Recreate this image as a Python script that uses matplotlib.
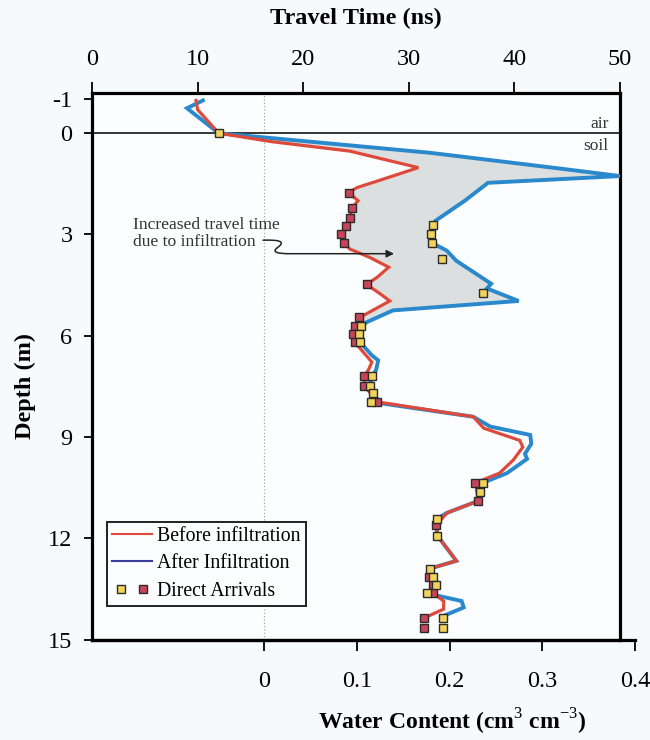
import matplotlib
matplotlib.use("Agg")
import matplotlib.pyplot as plt
import numpy as np
from matplotlib.legend_handler import HandlerTuple
from matplotlib.lines import Line2D
from matplotlib.patches import FancyArrowPatch
from matplotlib.path import Path

# ---------------------------------------------------------------------------
# Profile data (travel time in ns against depth in m)
# ---------------------------------------------------------------------------
before_depth = [-0.97, -0.7, 0.0, 0.25, 0.53, 1.02, 1.42, 1.61, 1.76, 2.0, 2.22,
                2.5, 2.74, 2.99, 3.24, 3.43, 3.68, 3.97, 4.27, 4.48, 4.76, 4.97,
                5.4, 5.45, 5.72, 5.96, 6.2, 6.78, 7.0, 7.19, 7.48, 7.96, 8.4,
                8.74, 9.1, 9.3, 9.68, 10.07, 10.36, 10.89, 11.25, 11.62, 11.92,
                12.67, 12.9, 13.14, 13.39, 13.63, 13.86, 14.1, 14.37]
before_time = [9.85, 10.0, 12.0, 17.0, 24.4, 30.9, 27.0, 25.1, 24.3, 25.2, 24.6,
               24.4, 24.1, 23.6, 23.9, 24.4, 26.3, 28.1, 27.0, 26.0, 27.3, 28.2,
               25.7, 25.3, 24.9, 24.7, 24.9, 26.5, 26.2, 25.8, 25.8, 27.0, 36.1,
               37.1, 40.5, 40.8, 39.9, 38.6, 36.3, 36.6, 33.6, 32.6, 32.7,
               34.5, 32.0, 31.95, 32.3, 32.3, 33.3, 33.3, 31.4]

after_depth = [-0.97, -0.74, 0.0, 0.58, 0.83, 1.07, 1.27, 1.47, 2.0, 2.6, 2.75,
               3.0, 3.25, 3.48, 3.78, 4.46, 4.6, 4.97, 5.25, 5.6, 5.72, 5.96,
               6.2, 6.58, 6.73, 7.02, 7.19, 7.48, 7.69, 8.0, 8.4, 8.69, 8.94,
               9.2, 9.5, 9.65, 10.07, 10.36, 10.63, 10.89, 11.25, 11.42, 11.62,
               11.92, 12.67, 12.9, 13.14, 13.39, 13.63, 13.86, 14.05, 14.3, 14.4]
after_time = [10.5, 9.0, 12.0, 32.0, 38.6, 44.9, 50.0, 37.5, 35.3, 32.5, 32.3,
              32.1, 32.2, 33.6, 34.5, 37.8, 37.4, 40.4, 28.5, 26.0, 25.5, 25.3,
              25.4, 26.5, 27.1, 26.9, 26.5, 26.3, 26.6, 27.3, 36.1, 37.7, 41.5,
              41.6, 41.0, 41.2, 39.3, 37.0, 36.7, 36.6, 33.6, 32.7, 32.6,
              32.7, 34.5, 32.0, 32.3, 32.6, 31.7, 35.0, 35.2, 33.3, 33.2]

# Direct arrival picks
arrival_after_depth = [0.0, 2.72, 3.0, 3.25, 3.72, 4.74, 5.71, 5.96, 6.2, 7.19,
                       7.48, 7.69, 7.96, 10.36, 10.63, 11.42, 11.92, 12.9, 13.14,
                       13.39, 13.63, 14.37, 14.66]
arrival_after_time = [12.0, 32.3, 32.1, 32.2, 33.1, 37.0, 25.5, 25.3, 25.4, 26.5,
                      26.3, 26.6, 26.4, 37.0, 36.7, 32.7, 32.7, 32.0, 32.3,
                      32.6, 31.7, 33.2, 33.2]
arrival_before_depth = [1.76, 2.22, 2.5, 2.74, 2.99, 3.24, 4.48, 5.45, 5.71,
                        5.96, 6.2, 7.19, 7.48, 7.96, 10.36, 10.89, 11.62, 13.14,
                        13.39, 13.63, 14.37, 14.66]
arrival_before_time = [24.3, 24.6, 24.4, 24.1, 23.6, 23.9, 26.0, 25.3, 24.9,
                       24.7, 24.9, 25.8, 25.8, 27.0, 36.3, 36.6, 32.6, 31.95,
                       32.3, 32.3, 31.4, 31.4]

time_ticks = [0, 10, 20, 30, 40, 50]
depth_ticks = [-1, 0, 3, 6, 9, 12, 15]
wc_ticks = [0, 0.1, 0.2, 0.3, 0.4]

# water content axis: travel time at theta = 0 and ns per unit theta
WC_ZERO_NS = 16.33
NS_PER_WC = 87.7
FILL_MAX_DEPTH = 5.75

RED = "#dd4a3c"
BLUE = "#2a88cc"
BG = "#f7fafc"
TICK_FS = 17.5
LABEL_FS = 17.5


def main() -> None:
    plt.rcParams["font.family"] = ["Liberation Serif", "DejaVu Serif"]
    plt.rcParams["axes.unicode_minus"] = False
    plt.rcParams["mathtext.fontset"] = "custom"
    plt.rcParams["mathtext.rm"] = "Liberation Serif"
    plt.rcParams["mathtext.bf"] = "Liberation Serif:bold"

    fig = plt.figure(figsize=(6.5, 7.4), dpi=100)
    fig.patch.set_facecolor(BG)

    W, H = 650.0, 740.0
    left, right, top, bottom = 92, 620, 92.7, 639.5
    ax = fig.add_axes([left / W, 1 - bottom / H, (right - left) / W, (bottom - top) / H])
    ax.set_facecolor("#fbfdfe")

    # shaded difference between the two profiles
    bd = np.array(before_depth)
    bt = np.array(before_time)
    ad = np.array(after_depth)
    at = np.array(after_time)
    sb = (bd >= 0) & (bd <= FILL_MAX_DEPTH)
    sa = (ad >= 0) & (ad <= FILL_MAX_DEPTH)
    poly_t = np.concatenate([at[sa], bt[sb][::-1]])
    poly_d = np.concatenate([ad[sa], bd[sb][::-1]])
    ax.fill(poly_t, poly_d, color="#dcdfe0", lw=0, zorder=1)

    ax.axvline(WC_ZERO_NS, color="#9a9a9a", lw=0.8, ls=(0, (1, 2)), zorder=1.5)
    ax.axhline(0, color="black", lw=1.1, zorder=2)

    ax.plot(after_time, after_depth, color=BLUE, lw=2.8, zorder=3, solid_joinstyle="miter")
    ax.plot(before_time, before_depth, color=RED, lw=2.3, zorder=4, solid_joinstyle="miter")

    sq = dict(marker="s", ms=6, mec="#2b2b2b", mew=1.0, ls="none", zorder=5)
    ax.plot(arrival_before_time, arrival_before_depth, mfc="#c8445a", **sq)
    ax.plot(arrival_after_time, arrival_after_depth, mfc="#f0d25c", **sq)

    ax.set_xlim(0, 50)
    ax.set_ylim(15, -1.2)
    ax.xaxis.tick_top()
    ax.xaxis.set_label_position("top")
    ax.set_xticks(time_ticks)
    ax.set_yticks(depth_ticks)
    ax.tick_params(axis="x", direction="out", length=8, width=1.3, pad=8, labelsize=TICK_FS)
    ax.tick_params(axis="y", direction="out", length=6, width=1.3, pad=8, labelsize=TICK_FS)
    for s in ax.spines.values():
        s.set_linewidth(2.3)
    ax.set_xlabel("Travel Time (ns)", fontsize=LABEL_FS, fontweight="bold", labelpad=18)
    ax.set_ylabel("Depth (m)", fontsize=LABEL_FS, fontweight="bold")
    ax.yaxis.set_label_coords(-0.106, 0.4636)

    # air / soil labels
    ax.text(48.9, -0.28, "air", ha="right", va="center", fontsize=12.5, color="#333333")
    ax.text(48.9, 0.37, "soil", ha="right", va="center", fontsize=12.5, color="#333333")

    # annotation with squiggly arrow
    ax.text(3.9, 2.96, "Increased travel time\ndue to infiltration", ha="left",
            va="center", fontsize=12.6, color="#333333", linespacing=1.1)
    squiggle = Path(
        [(16.2, 3.17), (18.7, 3.14), (17.6, 3.38), (16.7, 3.58), (18.8, 3.57), (28.6, 3.57)],
        [Path.MOVETO, Path.CURVE3, Path.CURVE3, Path.CURVE3, Path.CURVE3, Path.LINETO],
    )
    ax.add_patch(FancyArrowPatch(path=squiggle, arrowstyle="-|>", mutation_scale=11,
                                 color="#222222", lw=1.1, zorder=6))

    # legend
    handles = [
        Line2D([], [], color=RED, lw=1.5),
        Line2D([], [], color="#3b3b9a", lw=1.5),
        (Line2D([], [], mfc="#f0d25c", **sq), Line2D([], [], mfc="#c8445a", **sq)),
    ]
    labels = ["Before infiltration", "After Infiltration", "Direct Arrivals"]
    leg = ax.legend(
        handles, labels, loc="lower left", bbox_to_anchor=(0.028, 0.061),
        borderaxespad=0, fontsize=14.2, fancybox=False, framealpha=1,
        facecolor="#fbfdfe", edgecolor="#222222", handlelength=2.0,
        handletextpad=0.25, labelspacing=0.42, borderpad=0.28,
        handler_map={tuple: HandlerTuple(ndivide=None, pad=0.3)})
    leg.get_frame().set_linewidth(1.4)

    # water content axis along the bottom
    wc_left = (0 - WC_ZERO_NS) / NS_PER_WC
    t_right = WC_ZERO_NS + wc_ticks[-1] * NS_PER_WC
    pos = ax.get_position()
    ax2 = fig.add_axes([pos.x0, pos.y0, pos.width * t_right / 50, pos.height])
    ax2.patch.set_visible(False)
    for name in ("top", "left", "right"):
        ax2.spines[name].set_visible(False)
    ax2.spines["bottom"].set_linewidth(2.3)
    ax2.set_xlim(wc_left, wc_ticks[-1])
    ax2.set_yticks([])
    ax2.set_xticks(wc_ticks)
    ax2.set_xticklabels(["0", "0.1", "0.2", "0.3", "0.4"])
    ax2.tick_params(axis="x", direction="out", length=8, width=1.3, pad=15, labelsize=TICK_FS)
    ax2.set_xlabel("Water Content (cm$^{3}$ cm$^{-3}$)", fontsize=17,
                   fontweight="bold", labelpad=10,
                   x=(452 - pos.x0 * W) / (pos.width * t_right / 50 * W))

    fig.savefig("out.png", dpi=100, facecolor=fig.get_facecolor())
    plt.close(fig)


if __name__ == "__main__":
    main()
